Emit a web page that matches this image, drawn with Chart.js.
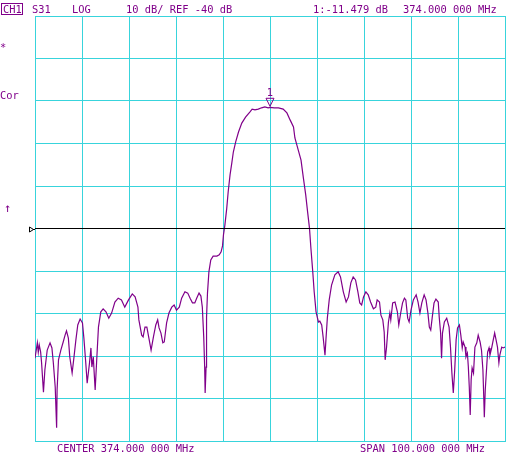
<!DOCTYPE html>
<html>
<head>
<meta charset="utf-8">
<script src="https://cdn.jsdelivr.net/npm/chart.js@4/dist/chart.umd.min.js"></script>
<style>
  html, body { margin: 0; padding: 0; background: #ffffff; }
  #wrap { width: 517px; height: 453px; }
</style>
</head>
<body>
<div id="wrap"><canvas id="analyzer" width="517" height="453"></canvas></div>
<script>
// sweep settings (MHz / dB)
const centerMHz = 374;
const spanMHz = 100;
const refLevelDb = -40;
const dbPerDiv = 10;

// marker 1
const markerFreq = 374.0;
const markerDb = -11.479;

// trace readout: frequency (MHz) and S31 (dB)
const freqMHz = [
  324.0, 324.5, 324.7, 324.9, 325.2, 325.4, 325.8, 326.1, 326.6, 327.2,
  327.6, 327.9, 328.3, 328.6, 328.7, 329.0, 329.5, 330.0, 330.4, 330.7,
  331.1, 331.4, 331.9, 332.3, 332.7, 333.1, 333.6, 334.1, 334.4, 334.8,
  335.1, 335.6, 335.9, 336.1, 336.4, 336.8, 337.1, 337.5, 338.0, 338.5,
  339.1, 339.7, 340.3, 341.0, 341.7, 342.4, 343.1, 343.9, 344.7, 345.3,
  345.9, 346.1, 346.7, 347.0, 347.4, 347.8, 348.3, 348.7, 349.2, 349.7,
  350.1, 350.4, 350.8, 351.2, 351.5, 352.0, 352.5, 353.1, 353.6, 354.1,
  354.7, 355.2, 355.9, 356.5, 357.0, 357.5, 358.0, 358.4, 358.9, 359.3,
  359.6, 359.9, 360.1, 360.2, 360.4, 360.5, 360.7, 361.0, 361.4, 361.9,
  362.7, 363.2, 363.6, 363.9, 364.1, 364.4, 364.8, 365.1, 365.5, 365.9,
  366.2, 366.7, 367.3, 368.0, 368.8, 369.7, 370.2, 370.8, 371.5, 372.2,
  372.9, 373.6, 374.0, 374.9, 375.8, 376.8, 377.6, 378.3, 379.0, 379.3,
  380.0, 380.6, 381.1, 381.6, 382.0, 382.4, 382.7, 383.1, 383.4, 383.8,
  384.3, 384.6, 385.0, 385.3, 385.7, 385.9, 386.2, 386.6, 387.1, 387.8,
  388.5, 389.0, 389.6, 390.2, 390.7, 391.2, 391.7, 392.2, 392.7, 393.1,
  393.5, 393.9, 394.4, 394.9, 395.4, 396.0, 396.5, 396.8, 397.3, 397.6,
  398.0, 398.3, 398.5, 398.8, 399.2, 399.5, 399.7, 400.1, 400.6, 401.1,
  401.4, 401.8, 402.2, 402.6, 402.9, 403.3, 403.6, 404.0, 404.5, 405.1,
  405.5, 405.9, 406.3, 406.8, 407.2, 407.6, 407.9, 408.2, 408.5, 408.9,
  409.3, 409.8, 410.0, 410.3, 410.5, 410.7, 411.1, 411.6, 412.1, 412.4,
  412.7, 413.0, 413.3, 413.6, 413.9, 414.3, 414.6, 414.9, 415.1, 415.5,
  415.7, 416.0, 416.2, 416.4, 416.6, 416.8, 417.0, 417.3, 417.6, 418.0,
  418.3, 418.7, 419.0, 419.3, 419.5, 419.6, 419.8, 420.1, 420.3, 420.6,
  420.8, 421.2, 421.5, 421.8, 422.1, 422.4, 422.7, 422.9, 423.3, 423.6,
  424.0
];
const traceDb = [
  -70.5, -66.9, -69.1, -67.4, -69.1, -71.6, -78.5, -73.3, -68.6, -66.9,
  -68.1, -71.6, -77.3, -86.9, -78.0, -70.9, -68.6, -66.7, -65.1, -64.1,
  -65.8, -70.2, -74.0, -70.2, -66.2, -62.7, -61.3, -62.2, -65.8, -71.6,
  -76.4, -71.6, -68.1, -72.6, -70.2, -78.0, -71.6, -63.2, -59.6, -58.9,
  -59.6, -61.1, -59.9, -57.3, -56.4, -56.8, -58.5, -56.8, -55.4, -56.1,
  -58.5, -61.5, -65.1, -65.5, -63.2, -63.2, -66.2, -68.6, -65.5, -62.7,
  -61.5, -63.4, -64.6, -66.9, -66.7, -62.2, -59.9, -58.5, -58.0, -59.2,
  -58.5, -56.4, -54.9, -55.2, -56.4, -57.5, -57.5, -56.4, -55.2, -55.9,
  -58.5, -65.5, -72.6, -78.7, -72.6, -60.8, -55.2, -50.2, -47.4, -46.5,
  -46.5, -46.2, -45.5, -44.1, -41.5, -39.2, -35.2, -31.4, -27.4, -24.4,
  -22.0, -19.6, -17.3, -15.2, -13.8, -12.6, -11.9, -12.1, -11.9, -11.6,
  -11.4, -11.6, -11.5, -11.6, -11.6, -11.9, -12.8, -14.5, -16.1, -18.7,
  -21.5, -23.9, -28.1, -32.1, -36.1, -39.9, -44.6, -50.2, -54.9, -59.6,
  -62.0, -61.8, -62.7, -65.5, -69.8, -66.2, -61.1, -56.8, -53.3, -50.9,
  -50.2, -51.4, -54.9, -57.3, -56.1, -52.8, -51.4, -52.1, -54.9, -57.5,
  -58.0, -56.1, -54.9, -55.6, -57.3, -58.9, -58.5, -56.8, -57.3, -60.4,
  -61.5, -64.4, -70.9, -67.9, -62.0, -59.9, -61.5, -57.5, -57.3, -59.6,
  -62.7, -59.9, -57.5, -56.4, -56.8, -61.1, -62.0, -59.2, -56.8, -55.6,
  -57.3, -59.9, -57.5, -55.6, -56.8, -59.9, -63.2, -63.9, -61.1, -57.5,
  -56.6, -57.3, -60.8, -64.6, -70.5, -64.6, -62.0, -61.1, -63.2, -67.9,
  -74.0, -78.7, -73.3, -66.2, -63.4, -62.7, -65.1, -68.1, -66.7, -67.9,
  -70.2, -69.3, -72.6, -77.3, -83.9, -75.6, -72.8, -74.0, -67.9, -66.9,
  -65.1, -66.7, -68.6, -73.3, -80.4, -84.4, -78.0, -72.6, -69.1, -68.1,
  -69.8, -67.9, -66.2, -64.6, -66.2, -67.9, -71.6, -69.8, -67.9, -68.1,
  -67.9
];

const headerLeft = ['S31', 'LOG', '10 dB/ REF -40 dB'];
const headerRight = ['1:-11.479 dB', '374.000 000 MHz'];
const footer = ['CENTER 374.000 000 MHz', 'SPAN 100.000 000 MHz'];

const ink = '#80008a';
const gridCyan = '#38d4dc';
const font = '10.4px "DejaVu Sans Mono", "Liberation Mono", monospace';

const annotations = {
    id: 'annotations',
    afterDraw(chart) {
        const { ctx, scales } = chart;
        const xs = scales.x, ys = scales.y;
        ctx.save();
        ctx.font = font;
        ctx.fillStyle = ink;
        ctx.textBaseline = 'alphabetic';

        // CH1 boxed label
        ctx.strokeStyle = ink;
        ctx.lineWidth = 1;
        ctx.strokeRect(1.5, 3.5, 21, 11);
        ctx.fillText('CH1', 3, 13);

        ctx.fillText(headerLeft[0], 32, 13);
        ctx.fillText(headerLeft[1], 72, 13);
        ctx.fillText(headerLeft[2], 126, 13);
        ctx.fillText(headerRight[0], 313, 13);
        ctx.fillText(headerRight[1], 403, 13);

        ctx.fillText(footer[0], 57, 452);
        ctx.fillText(footer[1], 360, 452);

        // left annotations
        ctx.fillText('*', 0, 51);
        ctx.fillText('Cor', 0, 99);
        ctx.font = '12px "DejaVu Sans Mono", monospace';
        ctx.fillText('\u2191', 4, 212);
        ctx.font = font;

        // reference position marker
        const yr = Math.round(ys.getPixelForValue(refLevelDb)) + 0.5;
        ctx.strokeStyle = '#000000';
        ctx.beginPath();
        ctx.moveTo(29.5, yr - 2.5);
        ctx.lineTo(33.5, yr);
        ctx.lineTo(29.5, yr + 2.5);
        ctx.closePath();
        ctx.stroke();
        ctx.beginPath();
        ctx.moveTo(33, yr);
        ctx.lineTo(xs.left, yr);
        ctx.stroke();

        // marker 1 triangle
        const mx = xs.getPixelForValue(markerFreq);
        const my = ys.getPixelForValue(markerDb);
        ctx.strokeStyle = ink;
        ctx.beginPath();
        ctx.moveTo(mx - 4, my - 9);
        ctx.lineTo(mx + 4, my - 9);
        ctx.lineTo(mx, my - 1);
        ctx.closePath();
        ctx.stroke();
        ctx.textAlign = 'center';
        ctx.fillText('1', mx, my - 11);
        ctx.restore();
    }
};

const points = freqMHz.map((f, i) => ({ x: f, y: traceDb[i] }));
const lo = centerMHz - spanMHz / 2;
const hi = centerMHz + spanMHz / 2;

new Chart(document.getElementById('analyzer').getContext('2d'), {
    type: 'line',
    data: {
        datasets: [
            {
                label: 'REF',
                data: [{ x: lo, y: refLevelDb }, { x: hi, y: refLevelDb }],
                borderColor: '#000000',
                borderWidth: 1,
                pointRadius: 0
            },
            {
                label: 'S31',
                data: points,
                borderColor: ink,
                borderWidth: 1.2,
                pointRadius: 0,
                fill: false,
                tension: 0
            }
        ]
    },
    options: {
        responsive: false,
        animation: false,
        layout: { padding: { left: 35, right: 12, top: 16, bottom: 12 } },
        scales: {
            x: {
                type: 'linear',
                min: lo,
                max: hi,
                ticks: { display: false, stepSize: spanMHz / 10 },
                grid: { color: gridCyan, lineWidth: 1, drawTicks: false },
                border: { color: gridCyan, width: 1 }
            },
            y: {
                min: refLevelDb - 5 * dbPerDiv,
                max: refLevelDb + 5 * dbPerDiv,
                ticks: { display: false, stepSize: dbPerDiv },
                grid: { color: gridCyan, lineWidth: 1, drawTicks: false },
                border: { color: gridCyan, width: 1 }
            }
        },
        plugins: {
            legend: { display: false },
            tooltip: { enabled: false }
        }
    },
    plugins: [annotations]
});
</script>
</body>
</html>
